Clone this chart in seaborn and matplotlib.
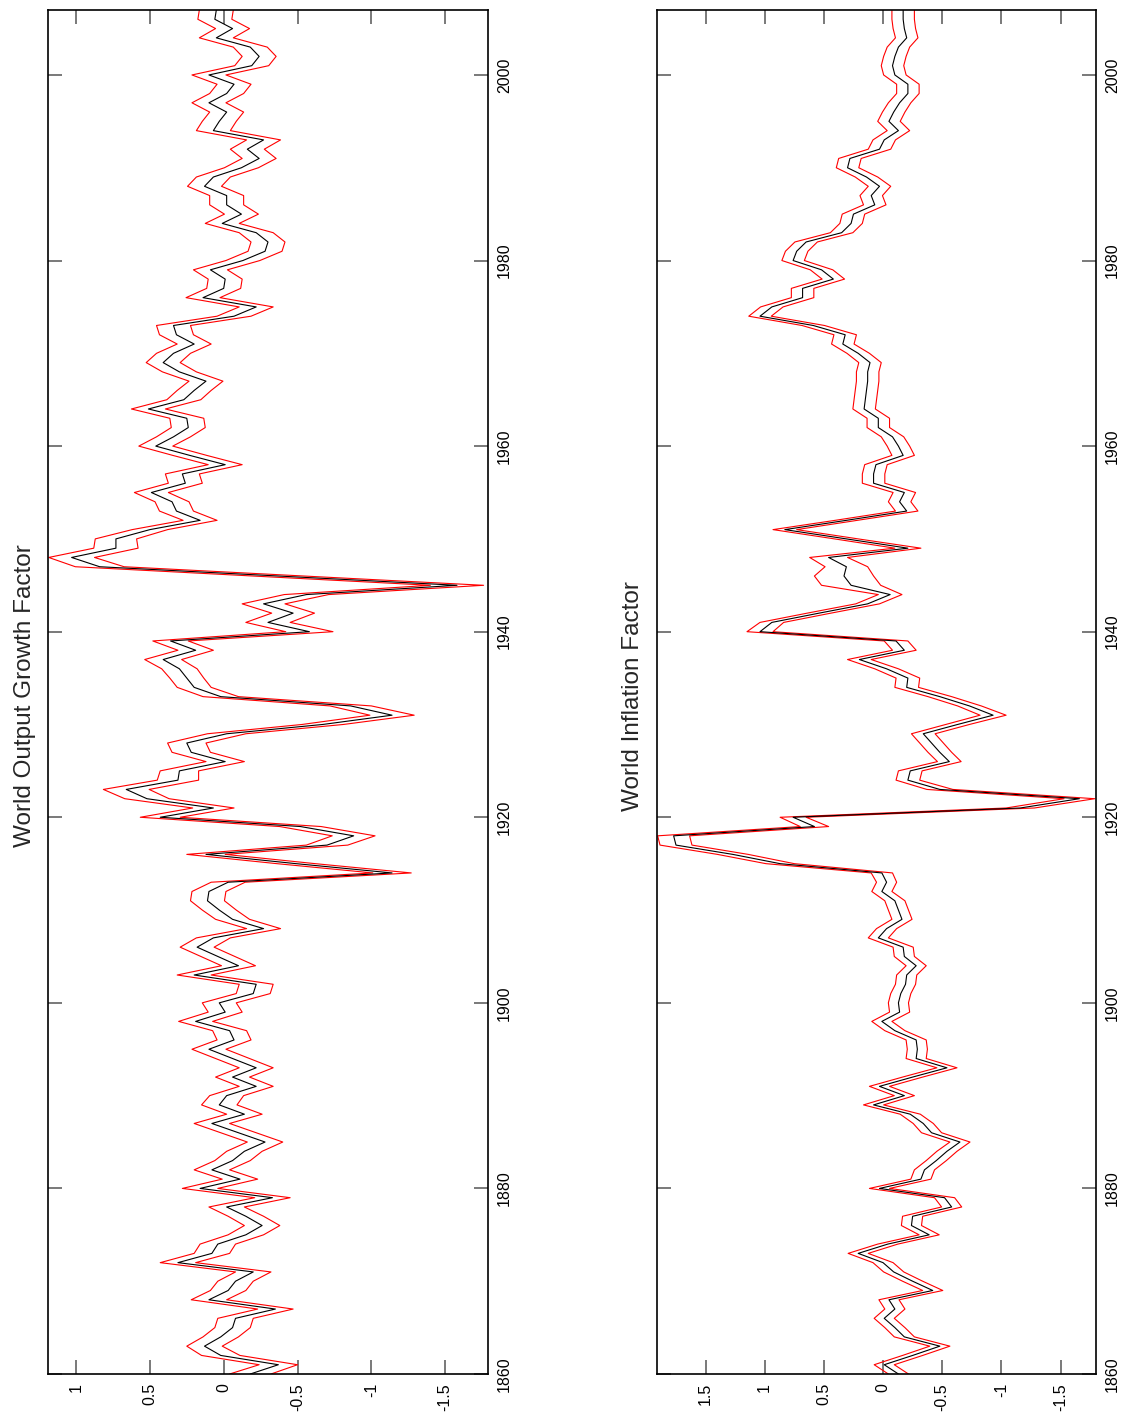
import matplotlib
matplotlib.use('Agg')
import matplotlib.pyplot as plt
import seaborn as sns
import pandas as pd
import numpy as np
from matplotlib.ticker import FixedLocator, FuncFormatter

# ---------------- data ----------------
years = list(range(1860, 2008))

output_factor = [
    -0.18, -0.37, 0.02, 0.13, 0.02, -0.06, -0.08, -0.35, 0.10, -0.03,   # 1860s
    -0.08, -0.20, 0.31, 0.08, 0.04, -0.15, -0.26, -0.15, -0.02, -0.33,  # 1870s
    0.16, -0.11, 0.08, -0.06, -0.14, -0.28, -0.10, 0.08, -0.14, 0.03,   # 1880s
    -0.02, -0.22, -0.06, -0.22, -0.06, 0.10, -0.07, -0.04, 0.19, -0.01, # 1890s
    0.03, -0.20, -0.22, 0.20, -0.10, 0.04, 0.18, 0.07, -0.27, -0.06,    # 1900s
    0.03, 0.11, 0.10, -0.03, -1.14, -0.49, 0.12, -0.70, -0.88, -0.52,   # 1910s
    0.43, 0.07, 0.52, 0.66, 0.31, 0.30, -0.01, 0.22, 0.25, -0.02,       # 1920s
    -0.67, -1.14, -0.86, 0.02, 0.20, 0.25, 0.30, 0.41, 0.19, 0.36,      # 1930s
    -0.58, -0.30, -0.47, -0.27, -0.56, -1.58, -0.37, 0.84, 1.03, 0.73,  # 1940s
    0.73, 0.50, 0.16, 0.32, 0.35, 0.49, 0.26, 0.28, -0.01, 0.23,        # 1950s
    0.46, 0.34, 0.24, 0.25, 0.51, 0.27, 0.20, 0.12, 0.30, 0.41,         # 1960s
    0.34, 0.20, 0.32, 0.34, -0.07, -0.22, 0.14, 0.00, -0.01, 0.09,      # 1970s
    -0.13, -0.28, -0.30, -0.22, 0.01, -0.12, -0.02, -0.02, 0.13, 0.07,  # 1980s
    -0.12, -0.24, -0.16, -0.27, 0.07, 0.03, -0.02, 0.10, -0.02, -0.07,  # 1990s
    0.10, -0.19, -0.24, -0.18, 0.05, -0.06, 0.06, 0.05,                 # 2000s
]

output_halfwidth = [
    0.14, 0.13, 0.13, 0.12, 0.12, 0.12, 0.12, 0.12, 0.12, 0.12,
    0.12, 0.12, 0.12, 0.12, 0.12, 0.12, 0.12, 0.12, 0.12, 0.12,
    0.12, 0.12, 0.12, 0.12, 0.12, 0.12, 0.12, 0.12, 0.12, 0.12,
    0.115, 0.115, 0.115, 0.115, 0.115, 0.115, 0.115, 0.115, 0.115, 0.115,
    0.115, 0.115, 0.115, 0.115, 0.115, 0.115, 0.115, 0.115, 0.115, 0.115,
    0.115, 0.115, 0.115, 0.115, 0.13, 0.13, 0.13, 0.14, 0.145, 0.14,
    0.135, 0.14, 0.15, 0.155, 0.14, 0.13, 0.13, 0.13, 0.13, 0.13,
    0.14, 0.15, 0.14, 0.12, 0.115, 0.115, 0.12, 0.125, 0.12, 0.12,
    0.16, 0.15, 0.145, 0.145, 0.15, 0.18, 0.17, 0.165, 0.155, 0.15,
    0.14, 0.12, 0.115, 0.115, 0.115, 0.115, 0.115, 0.115, 0.115, 0.115,
    0.115, 0.115, 0.115, 0.115, 0.115, 0.115, 0.115, 0.115, 0.115, 0.115,
    0.115, 0.115, 0.115, 0.115, 0.115, 0.115, 0.115, 0.115, 0.115, 0.115,
    0.115, 0.115, 0.115, 0.115, 0.115, 0.115, 0.115, 0.115, 0.115, 0.115,
    0.115, 0.115, 0.115, 0.115, 0.115, 0.115, 0.115, 0.115, 0.115, 0.115,
    0.115, 0.115, 0.115, 0.115, 0.115, 0.115, 0.115, 0.115,
]

inflation_factor = [
    -0.13, -0.01, -0.25, -0.48, -0.18, -0.10, -0.01, -0.10, -0.05, -0.42,  # 1860s
    -0.25, -0.09, 0.00, 0.21, -0.04, -0.39, -0.24, -0.25, -0.58, -0.52,    # 1870s
    0.03, -0.32, -0.35, -0.45, -0.54, -0.65, -0.41, -0.34, -0.23, 0.08,    # 1880s
    -0.18, 0.03, -0.25, -0.54, -0.28, -0.29, -0.28, -0.10, 0.01, -0.14,    # 1890s
    -0.13, -0.15, -0.19, -0.20, -0.28, -0.18, -0.17, 0.04, -0.03, -0.16,   # 1900s
    -0.13, -0.10, 0.01, -0.03, 0.01, 0.87, 1.27, 1.75, 1.77, 0.58,         # 1910s
    0.76, -1.16, -1.66, -0.48, -0.21, -0.23, -0.56, -0.48, -0.41, -0.34,   # 1920s
    -0.63, -0.93, -0.73, -0.48, -0.20, -0.21, -0.03, 0.20, -0.18, -0.11,   # 1930s
    1.04, 0.94, 0.54, 0.13, -0.06, 0.27, 0.33, 0.31, 0.46, -0.21,          # 1940s
    0.31, 0.83, 0.31, -0.20, -0.14, -0.18, 0.08, 0.08, 0.06, -0.17,        # 1950s
    -0.13, -0.08, 0.04, 0.04, 0.16, 0.15, 0.14, 0.13, 0.13, 0.11,          # 1960s
    0.21, 0.34, 0.32, 0.59, 1.04, 0.94, 0.68, 0.68, 0.42, 0.52,            # 1970s
    0.76, 0.73, 0.65, 0.35, 0.27, 0.25, 0.07, 0.10, 0.03, 0.14,            # 1980s
    0.30, 0.28, 0.03, -0.01, -0.13, -0.05, -0.09, -0.14, -0.21, -0.21,     # 1990s
    -0.10, -0.08, -0.10, -0.13, -0.20, -0.18, -0.17, -0.17,                # 2000s
]

inflation_halfwidth = [
    0.085, 0.085, 0.085, 0.085, 0.085, 0.085, 0.085, 0.085, 0.085, 0.085,
    0.085, 0.085, 0.085, 0.085, 0.085, 0.085, 0.085, 0.085, 0.085, 0.085,
    0.085, 0.085, 0.085, 0.085, 0.085, 0.085, 0.085, 0.085, 0.085, 0.085,
    0.085, 0.085, 0.085, 0.085, 0.085, 0.085, 0.085, 0.085, 0.085, 0.085,
    0.085, 0.085, 0.085, 0.085, 0.085, 0.085, 0.085, 0.085, 0.085, 0.085,
    0.085, 0.085, 0.085, 0.085, 0.09, 0.12, 0.13, 0.135, 0.135, 0.12,
    0.11, 0.12, 0.13, 0.11, 0.10, 0.10, 0.10, 0.10, 0.10, 0.10,
    0.10, 0.11, 0.10, 0.10, 0.10, 0.10, 0.10, 0.10, 0.10, 0.10,
    0.11, 0.10, 0.10, 0.10, 0.10, 0.25, 0.25, 0.18, 0.16, 0.11,
    0.10, 0.10, 0.095, 0.095, 0.095, 0.095, 0.095, 0.095, 0.095, 0.095,
    0.095, 0.095, 0.095, 0.095, 0.095, 0.095, 0.095, 0.095, 0.095, 0.095,
    0.095, 0.095, 0.095, 0.095, 0.095, 0.095, 0.095, 0.095, 0.095, 0.095,
    0.095, 0.095, 0.095, 0.095, 0.095, 0.095, 0.095, 0.095, 0.095, 0.095,
    0.095, 0.095, 0.095, 0.095, 0.095, 0.095, 0.095, 0.095, 0.095, 0.095,
    0.095, 0.095, 0.095, 0.095, 0.095, 0.095, 0.095, 0.095,
]

titles = ["World Output Growth Factor", "World Inflation Factor"]
year_ticks = [1860, 1880, 1900, 1920, 1940, 1960, 1980, 2000]
output_ticks = [1, 0.5, 0, -0.5, -1, -1.5]
inflation_ticks = [1.5, 1, 0.5, 0, -0.5, -1, -1.5]

# ---------------- style ----------------
sns.set_style('white')
plt.rcParams['font.family'] = ['Liberation Sans', 'DejaVu Sans']
plt.rcParams['axes.unicode_minus'] = False

W, H = 1127, 1426
fig = plt.figure(figsize=(W / 100, H / 100), dpi=100)
ax1 = fig.add_axes([48 / W, 52 / H, 440 / W, 1364 / H])
ax2 = fig.add_axes([657.3 / W, 52 / H, 438.7 / W, 1364 / H])


def draw(ax, center, halfwidth, xlim, vticks, title, title_x):
    c = np.array(center, dtype=float)
    hw = np.array(halfwidth, dtype=float)
    df = pd.DataFrame({'year': years, 'center': c,
                       'lower': c - hw, 'upper': c + hw})
    for col, color in [('upper', 'red'), ('lower', 'red'), ('center', 'black')]:
        sns.lineplot(data=df, x=col, y='year', orient='y', estimator=None,
                     color=color, lw=0.8, ax=ax)
    ax.set_xlim(*xlim)
    ax.set_ylim(1860, 2007)
    ax.set_xlabel('')
    ax.set_ylabel('')
    ax.xaxis.set_major_locator(FixedLocator(vticks))
    ax.xaxis.set_major_formatter(FuncFormatter(lambda v, p: f'{v:g}'))
    ax.yaxis.set_major_locator(FixedLocator(year_ticks))
    ax.yaxis.set_major_formatter(FuncFormatter(lambda v, p: f'{int(round(v))}'))
    ax.tick_params(axis='both', direction='in', length=10, width=1.1,
                   color='#555555', labelsize=11.5, pad=6.5, labelcolor='black')
    ax.tick_params(axis='x', top=True, bottom=True, labeltop=False,
                   labelbottom=True, labelrotation=90)
    ax.tick_params(axis='y', left=True, right=True, labelleft=False,
                   labelright=True, labelrotation=90)
    for t in ax.yaxis.get_major_ticks():
        t.label2.set_va('center')
    for s in ax.spines.values():
        s.set_visible(True)
        s.set_color('black')
        s.set_linewidth(1.2)
    fig.text(title_x, 0.512, title, rotation=90, ha='center', va='center',
             fontsize=17.5)


draw(ax1, output_factor, output_halfwidth, (1.19, -1.79), output_ticks,
     titles[0], 25 / W)
draw(ax2, inflation_factor, inflation_halfwidth, (1.908, -1.80), inflation_ticks,
     titles[1], 633 / W)

fig.savefig('out.png', dpi=100)
